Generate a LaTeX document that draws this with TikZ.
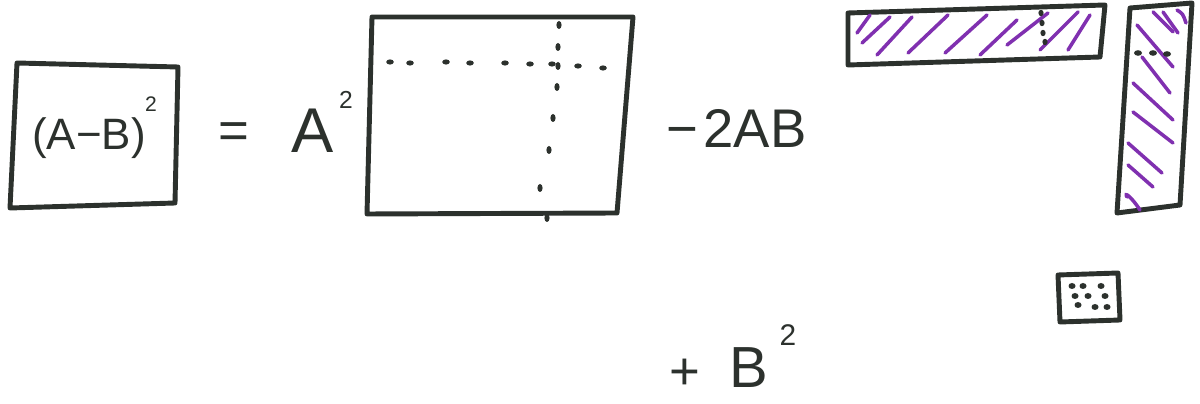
\documentclass[tikz,border=0pt]{standalone}
\usepackage{fontspec}
\setmainfont{Liberation Sans}
\definecolor{ink}{HTML}{2C312D}
\definecolor{hatch}{HTML}{8030B0}
\begin{document}
\begin{tikzpicture}[x=0.02cm,y=-0.02cm,
  box/.style={draw=ink,line width=2.8pt,line join=round,line cap=round},
  hatchline/.style={draw=hatch,line width=2pt,line cap=round},
  lbl/.style={text=ink,inner sep=0pt}]
\fill[white] (0,0) rectangle (1200,404);
\useasboundingbox (0,0) rectangle (1200,404);

% left box with (A-B)^2
\draw[box] (17,63) -- (178,67) -- (175,203) -- (10,208) -- cycle;
\node[lbl,anchor=base west,font=\fontsize{25}{25}\selectfont] (ab) at (32,150) {(A−B)};
\node[lbl,font=\fontsize{12}{12}\selectfont] (absq) at (151,104) {2};

% equals and A^2
\node[lbl,font=\fontsize{30}{30}\selectfont] (eq) at (234,136) {=};
\node[lbl,anchor=base west,font=\fontsize{36}{36}\selectfont] (a) at (291,153) {A};
\node[lbl,font=\fontsize{14}{14}\selectfont] (asq) at (346,100) {2};

% big square A^2
\draw[box] (372,17) -- (633,17) -- (617,213) -- (367,214) -- cycle;
\foreach \x/\y in {390/62,410/63,446/62,470/63,505/63,530/64,552/64,578/66,603/68}
  \fill[ink] (\x,\y) ellipse (3.8 and 2.6);
\foreach \x/\y in {559/25,558/47,557/87,553/118,549/150,540/188,547/218,558/66}
  \fill[ink] (\x,\y) ellipse (2.6 and 4);

% -2AB
\node[lbl,anchor=base west,font=\fontsize{31}{31}\selectfont] (twoab) at (666,148) {−\hspace{3pt}2AB};

% horizontal hatched bar
\draw[box] (848,13) -- (1105,5) -- (1100,57) -- (848,65) -- cycle;
\foreach \a/\b/\c/\d in {857/33/870/15, 862/43/890/17, 877/55/912/17, 908/53/948/15,
  945/53/987/15, 980/55/1017/20, 1007/45/1048/13, 1040/50/1078/12, 1068/50/1090/15}
  \draw[hatchline] (\a,\b) -- (\c,\d);
\foreach \x/\y in {1041/13,1042/23,1043/33,1045/42}
  \fill[ink] (\x,\y) ellipse (2.6 and 3.2);

% vertical hatched bar
\draw[box] (1130,8) -- (1192,3) -- (1180,205) -- (1117,213) -- cycle;
\foreach \a/\b/\c/\d in {1153/12/1173/32, 1163/12/1178/33, 1137/25/1173/67,
  1142/57/1170/93, 1133/83/1173/120, 1133/112/1173/143, 1128/143/1162/173,
  1128/165/1153/187}
  \draw[hatchline] (\a,\b) -- (\c,\d);
\draw[hatchline] (1177,10) .. controls (1183,14) .. (1186,23);
\draw[hatchline] (1127,197) .. controls (1124,192) and (1130,195) .. (1140,210);
\foreach \x/\y in {1138/53,1153/53,1167/54}
  \fill[ink] (\x,\y) ellipse (4 and 2.8);

% small dotted box B^2
\draw[box] (1058,275) -- (1118,273) -- (1120,320) -- (1060,322) -- cycle;
\foreach \x/\y in {1072/286,1083/286,1101/286,1075/296,1088/296,1105/296,1078/305,1095/307,1107/307}
  \fill[ink] (\x,\y) ellipse (3.5 and 3);

% + B^2
\node[lbl,font=\fontsize{30}{30}\selectfont] (plus) at (685,374) {+};
\node[lbl,anchor=base west,font=\fontsize{33}{33}\selectfont] (b) at (729,388) {B};
\node[lbl,font=\fontsize{17}{17}\selectfont] (bsq) at (788,335) {2};
\end{tikzpicture}
\end{document}
